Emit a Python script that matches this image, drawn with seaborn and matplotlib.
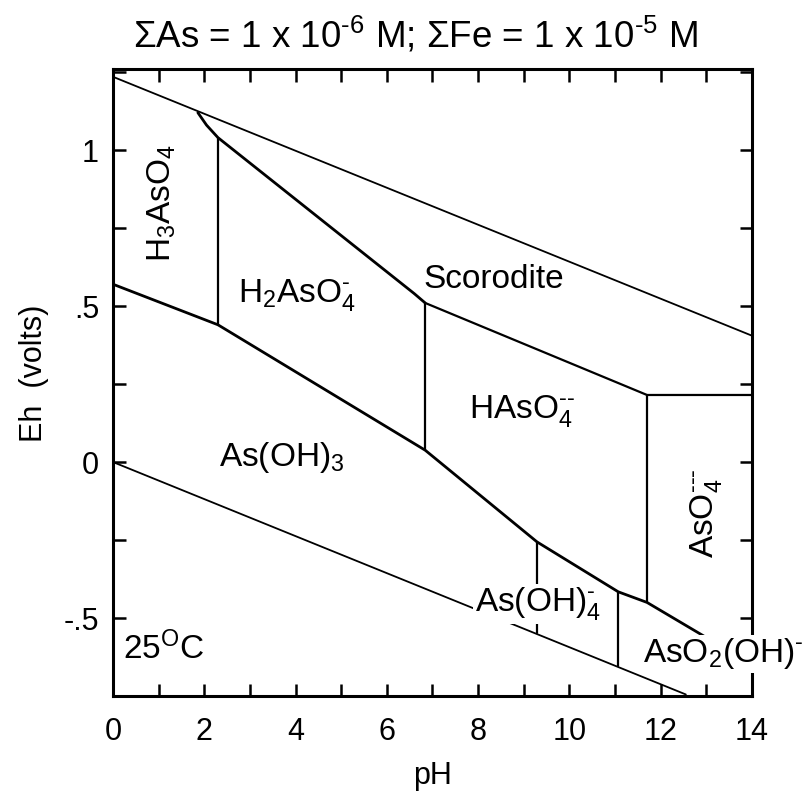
import matplotlib
matplotlib.use("Agg")
import matplotlib.pyplot as plt
import seaborn as sns
import pandas as pd
from matplotlib.ticker import FixedLocator, FixedFormatter, MultipleLocator

# ---- data ----
water_upper_ph = [0.0, 14.0]
water_upper_eh = [1.235, 0.405]
water_lower_ph = [0.0, 12.55]
water_lower_eh = [0.0, -0.745]

scorodite_top_ph = [1.86, 2.05, 2.30, 6.60, 6.84]
scorodite_top_eh = [1.12, 1.08, 1.04, 0.54, 0.51]
scorodite_bottom_ph = [6.84, 11.70, 14.0]
scorodite_bottom_eh = [0.51, 0.215, 0.215]

redox_ph = [0.0, 2.30, 6.84, 9.29, 11.07, 11.70, 12.97]
redox_eh = [0.57, 0.44, 0.038, -0.256, -0.416, -0.45, -0.56]

vertical_ph = [2.30, 6.84, 11.70, 9.29, 11.07]
vertical_eh_low = [0.44, 0.038, -0.45, -0.548, -0.653]
vertical_eh_high = [1.04, 0.51, 0.215, -0.256, -0.416]

x_ticks = [0, 2, 4, 6, 8, 10, 12, 14]
x_tick_labels = ["0", "2", "4", "6", "8", "10", "12", "14"]
y_ticks = [-0.5, 0.0, 0.5, 1.0]
y_tick_labels = ["-.5", "0", ".5", "1"]

title = r"$\Sigma$As = 1 x 10$^{\text{-6}}$ M; $\Sigma$Fe = 1 x 10$^{\text{-5}}$ M"

# ---- style ----
sns.set_theme(style="white")
plt.rcParams["font.family"] = ["Liberation Sans", "DejaVu Sans"]
plt.rcParams["mathtext.fontset"] = "custom"
plt.rcParams["mathtext.rm"] = "Liberation Sans"
plt.rcParams["mathtext.it"] = "Liberation Sans:italic"
plt.rcParams["mathtext.bf"] = "Liberation Sans:bold"
plt.rcParams["mathtext.sf"] = "Liberation Sans"
plt.rcParams["mathtext.default"] = "rm"
plt.rcParams["text.color"] = "black"
plt.rcParams["axes.labelcolor"] = "black"
plt.rcParams["xtick.color"] = "black"
plt.rcParams["ytick.color"] = "black"

fig = plt.figure(figsize=(8.03, 7.93), dpi=100)
ax = fig.add_axes([0.1407, 0.1223, 0.7958, 0.7907])

def draw(ph, eh, lw):
    df = pd.DataFrame({"pH": ph, "Eh": eh})
    sns.lineplot(data=df, x="pH", y="Eh", ax=ax, sort=False, estimator=None,
                 color="black", linewidth=lw, zorder=2)

draw(water_upper_ph, water_upper_eh, 1.3)
draw(water_lower_ph, water_lower_eh, 1.3)
draw(scorodite_top_ph, scorodite_top_eh, 2.0)
draw(scorodite_bottom_ph, scorodite_bottom_eh, 1.6)
draw(redox_ph, redox_eh, 2.0)
for p, lo, hi in zip(vertical_ph, vertical_eh_low, vertical_eh_high):
    draw([p, p], [lo, hi], 1.6)

ax.set_xlim(0, 14)
ax.set_ylim(-0.75, 1.26)

ax.xaxis.set_major_locator(FixedLocator(x_ticks))
ax.xaxis.set_major_formatter(FixedFormatter(x_tick_labels))
ax.xaxis.set_minor_locator(MultipleLocator(1))
ax.yaxis.set_major_locator(FixedLocator(y_ticks))
ax.yaxis.set_major_formatter(FixedFormatter(y_tick_labels))
ax.yaxis.set_minor_locator(MultipleLocator(0.25))
ax.tick_params(which="both", direction="in", top=True, right=True,
               bottom=True, left=True, length=9, width=1.8, color="black",
               labelsize=22, pad=10)
ax.tick_params(axis="x", which="both", pad=15)
for s in ax.spines.values():
    s.set_linewidth(2.2)
    s.set_color("black")

ax.set_xlabel("pH", fontsize=22, labelpad=10)
ax.set_ylabel("Eh  (volts)", fontsize=22)
ax.yaxis.set_label_coords(-0.100, 0.515)
fig.text(0.517, 0.955, title, ha="center", va="center", fontsize=26.5)

lab = dict(fontsize=24, ha="center", va="center", color="black", zorder=5)
ax.text(1.07, 0.83, r"H$_3$AsO$_4$", rotation=90, **lab)
ax.text(4.03, 0.535, r"H$_2$AsO$_4^{\text{-}}$", **lab)
ax.text(8.35, 0.585, "Scorodite", **lab)
ax.text(8.95, 0.165, r"HAsO$_4^{\text{--}}$", **lab)
ax.text(13.0, -0.165, r"AsO$_4^{\text{---}}$", rotation=90, **lab)
ax.text(3.69, 0.015, r"As(OH)$_3$", **lab)
ax.text(1.12, -0.60, r"25$^{\rm O}$C", **lab)
ax.text(9.3, -0.455, r"As(OH)$_4^{\text{-}}$",
        bbox=dict(facecolor="white", edgecolor="none", pad=1.0), **lab)
ax.text(13.37, -0.615, r"AsO$_2$(OH)$^{\text{-}}$", clip_on=False,
        bbox=dict(facecolor="white", edgecolor="none", pad=1.0), **lab)

fig.savefig("out.png", dpi=100)
